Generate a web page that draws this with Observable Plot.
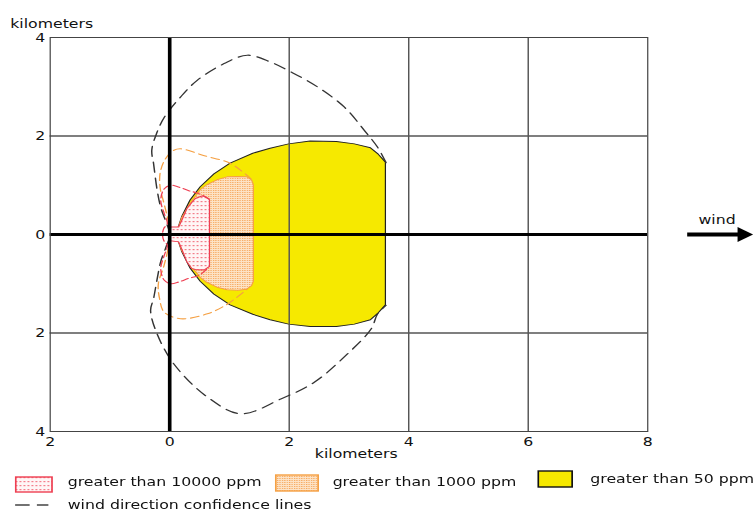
<!DOCTYPE html>
<html><head><meta charset="utf-8">
<script src="https://cdn.jsdelivr.net/npm/d3@7"></script>
<script src="https://cdn.jsdelivr.net/npm/@observablehq/plot@0.6"></script>
<style>
html,body{margin:0;padding:0;background:#fff;overflow:hidden}
#wrap{position:relative;width:625px;height:511px;transform:scaleX(1.2096);transform-origin:0 0;font-family:"DejaVu Sans",sans-serif;font-size:13px;color:#111}
.lg{position:absolute;white-space:nowrap;line-height:16px}
.sw{position:absolute}
</style></head><body><div id="wrap"></div><script>
// ---- data (kilometers) ----
const xTicks = [-2, 0, 2, 4, 6, 8];
const yTicks = [-4, -2, 0, 2, 4];
const gridX = [2, 4, 6];
const gridY = [-2, 2];

// > 50 ppm footprint
const yellowX      = [0.12, 0.21, 0.35, 0.52, 0.75, 1.02, 1.40, 1.69, 2.00, 2.36, 2.80, 3.10, 3.37, 3.50, 3.62];
const yellowTop    = [0.02, 0.35, 0.69, 0.96, 1.22, 1.44, 1.64, 1.74, 1.83, 1.89, 1.88, 1.83, 1.75, 1.62, 1.46];
const yellowBottom = [-0.02, -0.35, -0.69, -0.96, -1.22, -1.44, -1.63, -1.74, -1.83, -1.88, -1.88, -1.83, -1.74, -1.60, -1.44];

// > 1000 ppm footprint
const orangeX      = [0.13, 0.21, 0.35, 0.52, 0.63, 0.80, 0.97, 1.15, 1.30, 1.38, 1.41];
const orangeTop    = [0.03, 0.33, 0.62, 0.90, 1.00, 1.10, 1.16, 1.17, 1.16, 1.10, 1.00];
const orangeBottom = [-0.03, -0.33, -0.62, -0.88, -0.98, -1.08, -1.13, -1.14, -1.12, -1.05, -0.96];

// > 10000 ppm footprint
const redX      = [0.02, 0.16, 0.22, 0.30, 0.38, 0.44, 0.55, 0.60, 0.675];
const redTop    = [0.14, 0.14, 0.30, 0.52, 0.64, 0.72, 0.77, 0.76, 0.70];
const redBottom = [-0.135, -0.16, -0.33, -0.57, -0.70, -0.72, -0.73, -0.72, -0.66];

// wind direction confidence lines
const blackConfX = [3.62, 3.48, 3.26, 2.92, 2.47, 2.03, 1.69, 1.30, 0.91, 0.46, 0.18, -0.09, -0.22, -0.30, -0.27, -0.21, -0.15, -0.07, 0.00, -0.07, -0.15, -0.21, -0.27, -0.32, -0.21, 0.07, 0.63, 1.19, 1.86, 2.42, 2.97, 3.37, 3.48, 3.62];
const blackConfY = [1.46, 1.77, 2.11, 2.59, 3.00, 3.30, 3.50, 3.64, 3.47, 3.13, 2.79, 2.38, 2.05, 1.71, 1.44, 0.90, 0.55, 0.28, 0.00, -0.28, -0.55, -0.90, -1.30, -1.54, -2.02, -2.63, -3.30, -3.64, -3.34, -3.00, -2.43, -1.92, -1.61, -1.44];
const orangeConfX = [1.36, 1.02, 0.58, 0.18, 0.07, -0.07, -0.16, -0.16, -0.10, -0.03, 0.00, -0.03, -0.10, -0.19, -0.17, -0.09, 0.18, 0.63, 0.97, 1.30];
const orangeConfY = [1.13, 1.44, 1.60, 1.74, 1.71, 1.54, 1.25, 0.95, 0.65, 0.30, 0.00, -0.30, -0.65, -1.00, -1.30, -1.58, -1.71, -1.61, -1.41, -1.10];
const redConfX = [0.66, 0.49, 0.32, 0.16, 0.02, -0.09, -0.15, -0.09, -0.04, -0.10, -0.12, -0.10, -0.04, -0.09, -0.15, -0.09, 0.02, 0.16, 0.32, 0.49, 0.64];
const redConfY = [0.72, 0.83, 0.89, 0.96, 1.00, 0.93, 0.69, 0.42, 0.22, 0.12, 0.00, -0.12, -0.22, -0.42, -0.69, -0.93, -1.00, -0.96, -0.89, -0.83, -0.68];

// wind arrow (in km, beyond the plotted range)
const windLine = [{x1: 8.66, x2: 9.55, y: 0}];
const windHead = [{x: 9.59, y: 0}];
const windLabel = [{x: 9.16, y: 0, text: "wind"}];

const legendLabels = ["greater than 10000 ppm", "greater than 1000 ppm", "greater than 50 ppm", "wind direction confidence lines"];
const axisLabel = "kilometers";

// ---- styling ----
const YELLOW = "#f6e900", ORANGE = "#f5a043", RED = "#ee3f52";

const rows = (xs, lo, hi) => xs.map((x, i) => ({x, lo: lo[i], hi: hi[i]}));
const pts = (xs, ys) => xs.map((x, i) => ({x, y: ys[i]}));
const absFmt = d => String(Math.abs(d));

const chart = Plot.plot({
  width: 625, height: 465,
  marginLeft: 41, marginRight: 90, marginTop: 37, marginBottom: 34,
  style: {fontFamily: "DejaVu Sans, sans-serif", fontSize: "13px", color: "#111", background: "white", overflow: "visible"},
  x: {domain: [-2, 8], ticks: xTicks, tickFormat: absFmt, tickSize: 0, tickPadding: 5, label: null},
  y: {domain: [-4, 4], ticks: yTicks, tickFormat: absFmt, tickSize: 0, tickPadding: 4, label: null},
  marks: [
    Plot.areaY(rows(yellowX, yellowBottom, yellowTop), {x: "x", y1: "lo", y2: "hi", fill: YELLOW, stroke: "#222", strokeWidth: 1}),
    Plot.areaY(rows(orangeX, orangeBottom, orangeTop), {x: "x", y1: "lo", y2: "hi", fill: "url(#pat-orange)", stroke: ORANGE, strokeWidth: 1}),
    Plot.areaY(rows(redX, redBottom, redTop), {x: "x", y1: "lo", y2: "hi", fill: "url(#pat-red)", stroke: RED, strokeWidth: 1}),
    Plot.ruleX(gridX, {stroke: "#555", strokeWidth: 1.2}),
    Plot.ruleY(gridY, {stroke: "#555", strokeWidth: 1.3}),
    Plot.line(pts(blackConfX, blackConfY), {x: "x", y: "y", curve: "catmull-rom", stroke: "#333", strokeWidth: 1.2, strokeDasharray: "10,6"}),
    Plot.line(pts(orangeConfX, orangeConfY), {x: "x", y: "y", curve: "catmull-rom", stroke: ORANGE, strokeWidth: 1.1, strokeDasharray: "7,4"}),
    Plot.line(pts(redConfX, redConfY), {x: "x", y: "y", curve: "catmull-rom", stroke: RED, strokeWidth: 1.1, strokeDasharray: "6,3"}),
    Plot.ruleX([0], {stroke: "#000", strokeWidth: 3}),
    Plot.ruleY([0], {stroke: "#000", strokeWidth: 3}),
    Plot.frame({stroke: "#444"}),
    Plot.text([axisLabel], {frameAnchor: "top-left", text: d => d, dx: -33, dy: -19, textAnchor: "start", fill: "#111"}),
    Plot.text([axisLabel], {frameAnchor: "bottom", text: d => d, dx: 6, dy: 26, fill: "#111"}),
    Plot.link(windLine, {x1: "x1", x2: "x2", y1: "y", y2: "y", stroke: "#000", strokeWidth: 4}),
    Plot.dot(windHead, {x: "x", y: "y", symbol: "triangle", rotate: 90, r: 5.5, fill: "#000", stroke: "none"}),
    Plot.text(windLabel, {x: "x", y: "y", text: "text", dy: -15, fill: "#111"})
  ]
});

// patterns
const defs = d3.select(chart).insert("defs", ":first-child");
const pr = defs.append("pattern").attr("id", "pat-red").attr("patternUnits", "userSpaceOnUse").attr("width", 3.3).attr("height", 4);
pr.append("rect").attr("width", 3.3).attr("height", 4).attr("fill", "#fff6f6");
pr.append("rect").attr("x", 1).attr("y", 1).attr("width", 1.2).attr("height", 1.2).attr("fill", "#f05565");
const po = defs.append("pattern").attr("id", "pat-orange").attr("patternUnits", "userSpaceOnUse").attr("width", 2).attr("height", 2);
po.append("rect").attr("width", 2).attr("height", 2).attr("fill", "#fde3c6");
po.append("rect").attr("x", 0).attr("y", 0).attr("width", 1).attr("height", 1).attr("fill", "#f6a65a");

const wrap = document.getElementById("wrap");
wrap.appendChild(chart);

// legend (below the svg)
function swatch(left, top, w, h, fill, stroke) {
  const ns = "http://www.w3.org/2000/svg";
  const s = document.createElementNS(ns, "svg");
  s.setAttribute("width", w + 2); s.setAttribute("height", h + 2);
  s.setAttribute("class", "sw");
  s.style.left = left + "px"; s.style.top = top + "px";
  const r = document.createElementNS(ns, "rect");
  r.setAttribute("x", 1); r.setAttribute("y", 1); r.setAttribute("width", w); r.setAttribute("height", h);
  r.setAttribute("fill", fill); r.setAttribute("stroke", stroke); r.setAttribute("stroke-width", 1.4);
  s.appendChild(r);
  wrap.appendChild(s);
}
function label(left, top, text) {
  const d = document.createElement("div");
  d.className = "lg"; d.style.left = left + "px"; d.style.top = top + "px";
  d.textContent = text; wrap.appendChild(d);
}
swatch(12, 476, 30, 15, "url(#pat-red)", RED);
label(56, 474, legendLabels[0]);
swatch(227, 474, 35, 16, "url(#pat-orange)", ORANGE);
label(275, 474, legendLabels[1]);
swatch(444, 470, 28, 16, YELLOW, "#111");
label(488, 471, legendLabels[2]);
(function () {
  const ns = "http://www.w3.org/2000/svg";
  const s = document.createElementNS(ns, "svg");
  s.setAttribute("width", 30); s.setAttribute("height", 6); s.setAttribute("class", "sw");
  s.style.left = "12px"; s.style.top = "502px";
  const l = document.createElementNS(ns, "line");
  l.setAttribute("x1", 0.5); l.setAttribute("x2", 28); l.setAttribute("y1", 3); l.setAttribute("y2", 3);
  l.setAttribute("stroke", "#444"); l.setAttribute("stroke-width", 1.3); l.setAttribute("stroke-dasharray", "12,6");
  s.appendChild(l); wrap.appendChild(s);
})();
label(56, 497, legendLabels[3]);
</script></body></html>
